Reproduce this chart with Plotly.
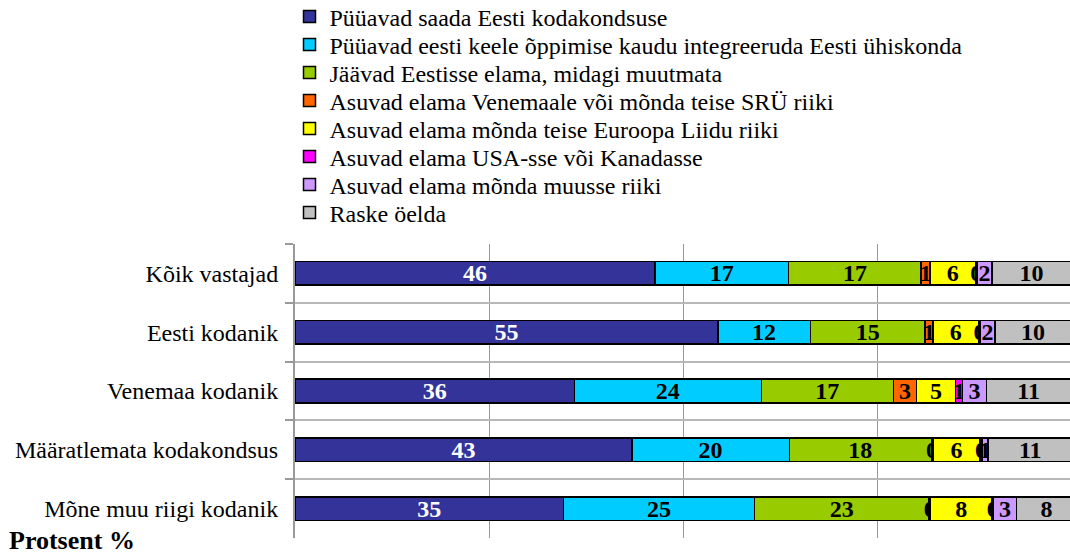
import plotly.graph_objects as go

categories = ["Kõik vastajad", "Eesti kodanik", "Venemaa kodanik",
              "Määratlemata kodakondsus", "Mõne muu riigi kodanik"]

series_names = [
    "Püüavad saada Eesti kodakondsuse",
    "Püüavad eesti keele õppimise kaudu integreeruda Eesti ühiskonda",
    "Jäävad Eestisse elama, midagi muutmata",
    "Asuvad elama Venemaale või mõnda teise SRÜ riiki",
    "Asuvad elama mõnda teise Euroopa Liidu riiki",
    "Asuvad elama USA-sse või Kanadasse",
    "Asuvad elama mõnda muusse riiki",
    "Raske öelda",
]

kodakondsus = [46.4, 54.5, 36.0, 43.4, 34.6]
integreeruda = [17.2, 11.9, 24.1, 20.3, 24.6]
jaavad = [17.1, 14.8, 17.0, 18.3, 22.5]
sry = [1.1, 1.0, 3.0, 0.2, 0.2]
euroopa = [5.9, 5.9, 5.0, 6.1, 7.9]
usa = [0.2, 0.2, 0.9, 0.2, 0.2]
muu = [1.9, 1.9, 3.1, 0.8, 3.0]
raske = [10.2, 9.8, 10.9, 10.9, 7.7]

series_values = [kodakondsus, integreeruda, jaavad, sry, euroopa, usa, muu, raske]
colors = ["#333399", "#00CCFF", "#99CC00", "#FF6600", "#FFFF00", "#FF00FF", "#CC99FF", "#C0C0C0"]
text_colors = ["white"] + ["black"] * 7

FONT = "Liberation Serif"
W, H = 1070, 556

fig = go.Figure()
legend_layout = {}
for i, (name, vals) in enumerate(zip(series_names, series_values)):
    key = "legend" if i == 0 else f"legend{i + 1}"
    fig.add_trace(go.Bar(
        y=categories, x=vals, name=name, orientation="h",
        marker=dict(color=colors[i], line=dict(color="black", width=1.5)),
        text=vals, texttemplate="%{x:.0f}", textposition="inside",
        insidetextanchor="middle", constraintext="none", textangle=0,
        textfont=dict(family=FONT, size=24, color=text_colors[i], weight="bold"),
        legend=key, hoverinfo="skip",
    ))
    cy = 17 + 28 * i
    legend_layout[key] = dict(
        xref="container", yref="container", x=289.5 / W, y=1 - cy / H,
        xanchor="left", yanchor="middle",
        font=dict(family=FONT, size=24, color="black"),
        itemwidth=30, bgcolor="rgba(0,0,0,0)", borderwidth=0,
    )

fig.update_layout(
    barmode="stack",
    bargap=0.6,
    width=W, height=H,
    margin=dict(l=295, r=0, t=244, b=18, autoexpand=False),
    paper_bgcolor="white", plot_bgcolor="white",
    font=dict(family=FONT, size=24, color="black"),
    showlegend=True,
    annotations=[dict(
        text="<b>Protsent %</b>", xref="paper", yref="paper",
        x=-295 / 775, y=0.0, xanchor="left", yanchor="middle",
        xshift=7, yshift=-2, showarrow=False,
        font=dict(family=FONT, size=26, color="black"),
    )],
    **legend_layout,
)

fig.update_xaxes(range=[0, 99.87], dtick=25, showticklabels=False,
                 showgrid=True, gridcolor="#999999", gridwidth=1,
                 zeroline=False, showline=False)
fig.update_yaxes(autorange="reversed", tickson="boundaries", ticks="outside",
                 ticklen=8, tickcolor="#999999", tickwidth=2,
                 showgrid=True, gridcolor="#B8B8B8", gridwidth=2,
                 showline=True, linecolor="#999999", linewidth=2,
                 automargin=False, ticklabelstandoff=10,
                 tickfont=dict(family=FONT, size=24, color="black"))

fig.write_html("out.html", config={"displayModeBar": False},
               post_script="document.body.style.margin='0px';")
